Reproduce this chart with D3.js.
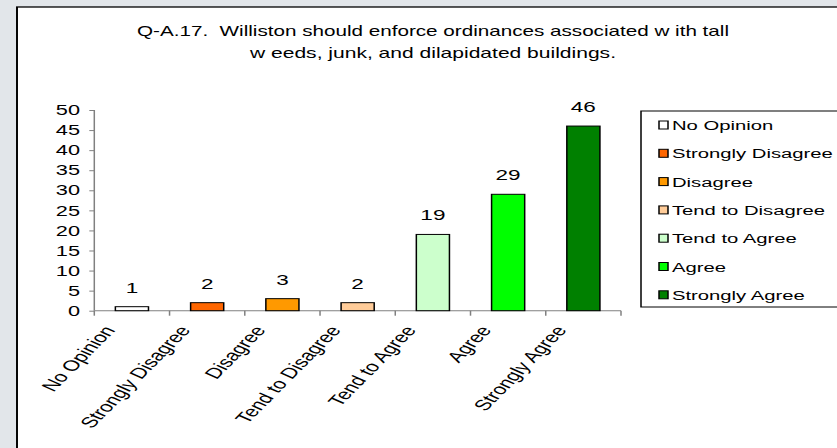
<!DOCTYPE html>
<html>
<head>
<meta charset="utf-8">
<script src="https://cdn.jsdelivr.net/npm/d3@7"></script>
<style>
  html, body { margin: 0; padding: 0; background: #e2e6ea; }
  svg { display: block; }
  text { font-family: "Liberation Sans", Arial, sans-serif; fill: #000; white-space: pre; }
</style>
</head>
<body>
<script>
// ---- data ----
const categories = ["No Opinion", "Strongly Disagree", "Disagree", "Tend to Disagree", "Tend to Agree", "Agree", "Strongly Agree"];
const values = [1, 2, 3, 2, 19, 29, 46];
const colors = ["#ffffff", "#ff6600", "#ff9900", "#ffcc99", "#ccffcc", "#00ff00", "#008000"];
const yTicks = [0, 5, 10, 15, 20, 25, 30, 35, 40, 45, 50];
const titleLines = ["Q-A.17.  Williston should enforce ordinances associated w ith tall", "w eeds, junk, and dilapidated buildings."];

// ---- layout (inner coordinate system is stretched horizontally by SX) ----
const W = 837, H = 448, SX = 1.5;
const IW = W / SX;

const svg = d3.select("body").append("svg")
  .attr("width", W).attr("height", H)
  .attr("viewBox", `0 0 ${IW} ${H}`)
  .attr("preserveAspectRatio", "none");

svg.append("rect").attr("x", 0).attr("y", 0).attr("width", IW).attr("height", H).attr("fill", "#e2e6ea");
svg.append("rect").attr("x", 17 / SX).attr("y", 7).attr("width", IW).attr("height", H)
  .attr("fill", "#fff").attr("stroke", "#000").attr("stroke-width", 1.3);

// title
const titleG = svg.append("g");
const titleWidths = [592 / SX, 366 / SX];
titleLines.forEach((t, i) => {
  titleG.append("text")
    .attr("x", 433 / SX).attr("y", 36 + i * 22)
    .attr("text-anchor", "middle")
    .attr("font-size", 14)
    .attr("textLength", titleWidths[i])
    .attr("lengthAdjust", "spacingAndGlyphs")
    .text(t);
});

// scales
const x = d3.scaleBand().domain(categories)
  .range([94.3 / SX, 621 / SX]).paddingInner(0.56).paddingOuter(0.28);
const y = d3.scaleLinear().domain([0, 50]).range([310.7, 110]);

// y axis
const yAxis = svg.append("g").attr("transform", `translate(${x.range()[0]},0)`)
  .call(d3.axisLeft(y).tickValues(yTicks).tickSize(5 / SX).tickSizeOuter(0).tickFormat(""));
yAxis.selectAll("path,line").attr("stroke", "#808080").attr("stroke-width", 1);
yAxis.select(".domain").attr("d", `M0,${y(0)}V${y(50)}`);

svg.append("g").selectAll("text").data(yTicks).join("text")
  .attr("x", 80 / SX).attr("y", d => y(d))
  .attr("dy", "0.36em")
  .attr("text-anchor", "end")
  .attr("font-size", 14.5)
  .text(d => d);

// x axis
const step = x.step();
const x0 = x.range()[0];
const bounds = d3.range(categories.length + 1).map(i => x0 + i * step);
svg.append("line").attr("x1", x0).attr("x2", x.range()[1]).attr("y1", y(0)).attr("y2", y(0))
  .attr("stroke", "#808080").attr("stroke-width", 1);
svg.append("g").selectAll("line").data(bounds).join("line")
  .attr("x1", d => d).attr("x2", d => d).attr("y1", y(0)).attr("y2", y(0) + 5)
  .attr("stroke", "#808080").attr("stroke-width", 1);

// bars
svg.append("g").selectAll("rect").data(categories).join("rect")
  .attr("x", d => x(d)).attr("width", x.bandwidth())
  .attr("y", (d, i) => y(values[i])).attr("height", (d, i) => y(0) - y(values[i]))
  .attr("fill", (d, i) => colors[i])
  .attr("stroke", "#000").attr("stroke-width", 1);

// value labels
svg.append("g").selectAll("text").data(categories).join("text")
  .attr("x", d => x(d) + x.bandwidth() / 2)
  .attr("y", (d, i) => y(values[i]) - 14)
  .attr("text-anchor", "middle")
  .attr("font-size", 15)
  .text((d, i) => values[i]);

// x labels (appear at 45 degrees after horizontal stretch)
const ang = Math.atan(SX) * 180 / Math.PI;
svg.append("g").selectAll("text").data(categories).join("text")
  .attr("transform", d => `translate(${x(d) + x.bandwidth() / 2 - 16 / SX},${y(0) + 19.5}) rotate(${-ang})`)
  .attr("text-anchor", "end")
  .attr("font-size", 15)
  .text(d => d);

// legend
const lg = svg.append("g");
lg.append("rect").attr("x", 641 / SX).attr("y", 111).attr("width", IW).attr("height", 196)
  .attr("fill", "#fff").attr("stroke", "#000").attr("stroke-width", 1);
const items = lg.selectAll("g.item").data(categories).join("g").attr("class", "item")
  .attr("transform", (d, i) => `translate(0,${125 + i * 28.3})`);
items.append("rect").attr("x", 659 / SX).attr("y", -4).attr("width", 9 / SX).attr("height", 8)
  .attr("fill", (d, i) => colors[i]).attr("stroke", "#000").attr("stroke-width", 1);
items.append("text").attr("x", 672 / SX).attr("y", 5)
  .attr("font-size", 13.5)
  .text(d => d);
</script>
</body>
</html>
